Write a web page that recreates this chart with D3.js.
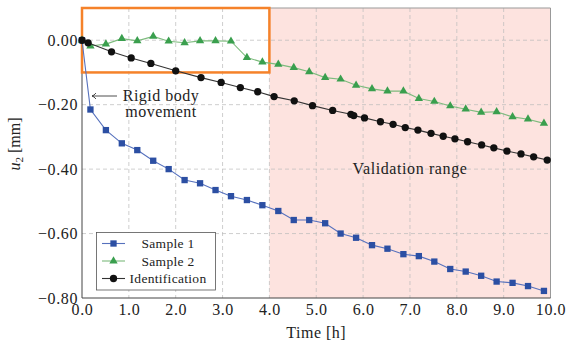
<!DOCTYPE html>
<html>
<head>
<meta charset="utf-8">
<script src="https://d3js.org/d3.v7.min.js"></script>
<style>
  body { margin: 0; padding: 0; background: #fff; }
  text { font-family: "Liberation Serif", serif; fill: #222; }
</style>
</head>
<body>
<svg id="chart" width="566" height="349"></svg>
<script>
// ---- data ----
const sampleTime = [0, 0.18, 0.51, 0.85, 1.18, 1.52, 1.85, 2.19, 2.52, 2.85, 3.18, 3.52, 3.85, 4.19, 4.52, 4.85,
  5.19, 5.52, 5.85, 6.19, 6.52, 6.86, 7.19, 7.52, 7.86, 8.19, 8.52, 8.85, 9.19, 9.52, 9.86];
const sample1 = [0, -0.215, -0.279, -0.320, -0.341, -0.374, -0.400, -0.434, -0.444, -0.465, -0.484, -0.496, -0.512,
  -0.530, -0.558, -0.558, -0.568, -0.600, -0.613, -0.636, -0.647, -0.664, -0.670, -0.687, -0.710, -0.718, -0.731,
  -0.749, -0.753, -0.763, -0.778];
const sample2 = [0, -0.018, -0.012, 0.005, -0.002, 0.012, -0.003, -0.008, -0.002, -0.002, -0.003, -0.054, -0.068,
  -0.075, -0.085, -0.098, -0.116, -0.121, -0.140, -0.151, -0.158, -0.158, -0.181, -0.190, -0.204, -0.214, -0.224,
  -0.222, -0.238, -0.245, -0.258];
const identTime = [0, 0.13, 0.63, 1.05, 1.47, 2.0, 2.54, 2.97, 3.38, 3.75, 4.1, 4.53, 4.92, 5.35, 5.74, 5.80, 6.03,
  6.37, 6.64, 6.90, 7.17, 7.45, 7.71, 7.96, 8.23, 8.53, 8.79, 9.07, 9.37, 9.64, 9.93];
const ident = [0, -0.008, -0.036, -0.055, -0.072, -0.095, -0.116, -0.131, -0.147, -0.160, -0.175, -0.188, -0.203,
  -0.218, -0.230, -0.234, -0.241, -0.253, -0.261, -0.271, -0.279, -0.289, -0.298, -0.306, -0.315, -0.325, -0.334,
  -0.344, -0.353, -0.362, -0.372];
const xTicks = [0, 1, 2, 3, 4, 5, 6, 7, 8, 9, 10];
const yTicks = [0, -0.2, -0.4, -0.6, -0.8];
const validation = [4, 10];
const zoomBox = { x: [0, 4], y: [-0.1, 0.1] };

// ---- layout ----
const svg = d3.select("#chart");
const W = +svg.attr("width"), H = +svg.attr("height");
const margin = { top: 8, right: 15.5, bottom: 51, left: 82 };

const x = d3.scaleLinear().domain([0, 10]).range([margin.left, W - margin.right]);
const y = d3.scaleLinear().domain([-0.8, 0.1]).range([H - margin.bottom, margin.top]);

// validation shading
svg.append("rect")
  .attr("x", x(validation[0])).attr("y", y(0.1))
  .attr("width", x(validation[1]) - x(validation[0]))
  .attr("height", y(-0.8) - y(0.1))
  .attr("fill", "#fde3df");

// grid
svg.append("g").selectAll("line").data(xTicks.slice(1, -1)).join("line")
  .attr("x1", d => x(d)).attr("x2", d => x(d))
  .attr("y1", y(0.1)).attr("y2", y(-0.8))
  .attr("stroke", "#bbb").attr("stroke-opacity", 0.7).attr("stroke-dasharray", "4,3");
svg.append("g").selectAll("line").data(yTicks.slice(0, -1)).join("line")
  .attr("x1", x(0)).attr("x2", x(10))
  .attr("y1", d => y(d)).attr("y2", d => y(d))
  .attr("stroke", "#bbb").attr("stroke-opacity", 0.7).attr("stroke-dasharray", "4,3");

// frame
svg.append("path")
  .attr("d", `M${x(0)},${y(0.1)}H${x(10)}V${y(-0.8)}`)
  .attr("fill", "none").attr("stroke", "#999").attr("stroke-width", 1);
svg.append("path")
  .attr("d", `M${x(0)},${y(0.1)}V${y(-0.8)}H${x(10)}`)
  .attr("fill", "none").attr("stroke", "#444").attr("stroke-width", 1);

// orange box (drawn over the frame)
svg.append("rect")
  .attr("x", x(zoomBox.x[0])).attr("y", y(zoomBox.y[1]))
  .attr("width", x(zoomBox.x[1]) - x(zoomBox.x[0]))
  .attr("height", y(zoomBox.y[0]) - y(zoomBox.y[1]))
  .attr("fill", "none").attr("stroke", "#f5822a").attr("stroke-width", 2.5);

// axes
const fs = 16;
const xAxis = svg.append("g")
  .attr("transform", `translate(0,${y(-0.8)})`)
  .call(d3.axisBottom(x).tickValues(xTicks).tickFormat(d3.format(".1f")).tickSize(0).tickPadding(6));
xAxis.attr("font-family", null);
xAxis.select(".domain").remove();
xAxis.selectAll("text").attr("font-size", fs).attr("letter-spacing", 0.6);

const yAxis = svg.append("g")
  .attr("transform", `translate(${x(0)},0)`)
  .call(d3.axisLeft(y).tickValues(yTicks).tickFormat(d3.format(".2f")).tickSize(0).tickPadding(4));
yAxis.attr("font-family", null);
yAxis.select(".domain").remove();
yAxis.selectAll("text").attr("font-size", fs).attr("letter-spacing", 0.6);

svg.append("text")
  .attr("x", (x(0) + x(10)) / 2).attr("y", 338)
  .attr("text-anchor", "middle").attr("font-size", fs).attr("letter-spacing", 0.5)
  .text("Time [h]");

const yl = svg.append("text")
  .attr("transform", `translate(20,${144}) rotate(-90)`)
  .attr("text-anchor", "middle").attr("font-size", fs);
yl.append("tspan").attr("font-style", "italic").text("u");
yl.append("tspan").attr("font-size", 11).attr("dy", 3).text("2");
yl.append("tspan").attr("dy", -3).text(" [mm]");

// series
const series = [
  { name: "Sample 1", t: sampleTime, v: sample1, line: "#5671bd", fill: "#2c4fa3", shape: d3.symbolSquare, size: 40 },
  { name: "Sample 2", t: sampleTime, v: sample2, line: "#7dbb7d", fill: "#3a9f4e", shape: d3.symbolTriangle, size: 30 },
  { name: "Identification", t: identTime, v: ident, line: "#333", fill: "#111", shape: d3.symbolCircle, size: 42 }
];

const line = d3.line().x(d => x(d[0])).y(d => y(d[1]));

series.forEach(s => {
  const pts = s.t.map((t, i) => [t, s.v[i]]);
  svg.append("path").datum(pts)
    .attr("d", line)
    .attr("fill", "none").attr("stroke", s.line).attr("stroke-width", 1.1);
  svg.append("g").selectAll("path").data(pts).join("path")
    .attr("transform", d => `translate(${x(d[0])},${y(d[1])})`)
    .attr("d", d3.symbol().type(s.shape).size(s.size))
    .attr("fill", s.fill);
});

// annotation arrow
svg.append("path")
  .attr("d", "M117,96H92M96,93Q94,95.5 92,96Q94,96.5 96,99")
  .attr("fill", "none").attr("stroke", "#222").attr("stroke-width", 0.8);
svg.append("text").attr("x", 161).attr("y", 101).attr("text-anchor", "middle")
  .attr("font-size", fs).attr("letter-spacing", 0.5).text("Rigid body");
svg.append("text").attr("x", 161).attr("y", 117).attr("text-anchor", "middle")
  .attr("font-size", fs).attr("letter-spacing", 0.5).text("movement");

svg.append("text").attr("x", 410).attr("y", 174).attr("text-anchor", "middle")
  .attr("font-size", fs).attr("letter-spacing", 0.6).text("Validation range");

// legend
const lg = svg.append("g");
lg.append("rect")
  .attr("x", 96.5).attr("y", 232.5).attr("width", 119).attr("height", 57.5)
  .attr("fill", "#fff").attr("stroke", "#555").attr("stroke-width", 0.8);
series.forEach((s, i) => {
  const yy = 243.5 + i * 17.5;
  lg.append("line").attr("x1", 102).attr("x2", 125).attr("y1", yy).attr("y2", yy)
    .attr("stroke", s.line).attr("stroke-width", 1.1);
  lg.append("path").attr("transform", `translate(113.5,${yy})`)
    .attr("d", d3.symbol().type(s.shape).size(s.size)).attr("fill", s.fill);
  lg.append("text").attr("x", 168).attr("y", yy + 4.5).attr("text-anchor", "middle")
    .attr("font-size", 13.5).attr("letter-spacing", 0.3).text(s.name);
});
</script>
</body>
</html>
